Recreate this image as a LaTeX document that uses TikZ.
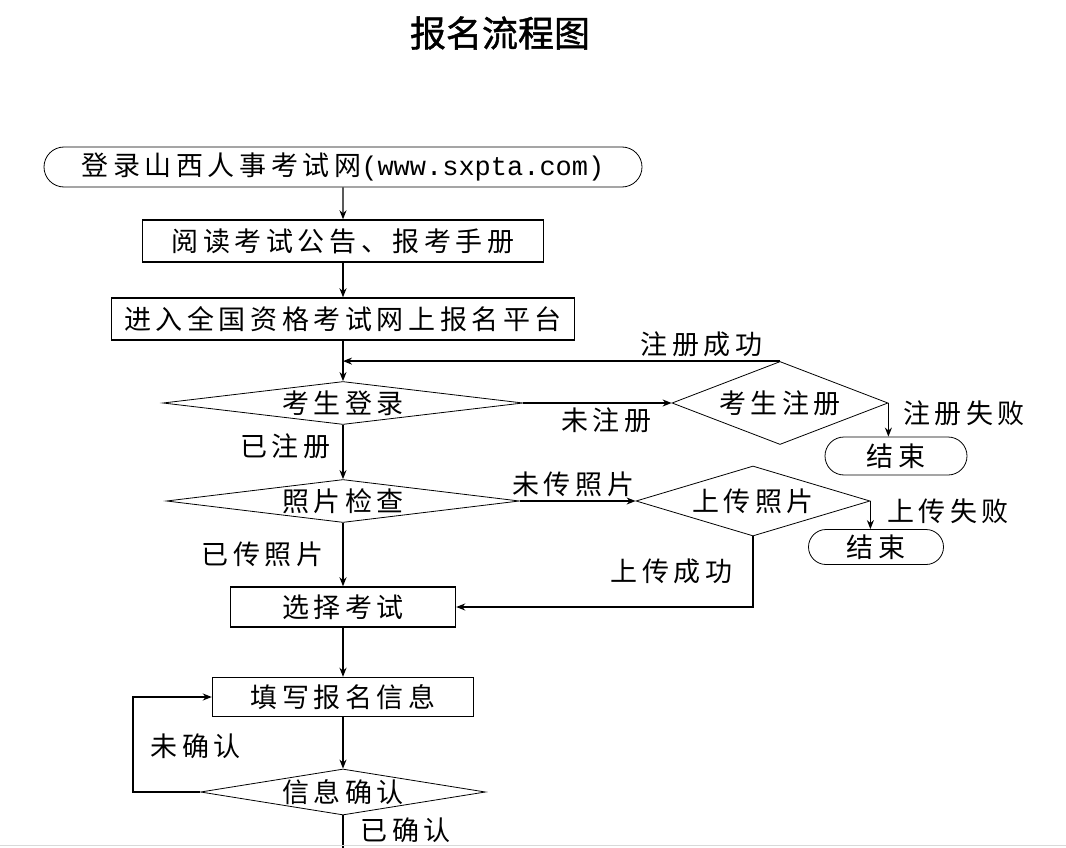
\documentclass[tikz,border=0pt]{standalone}
\usepackage{fontspec}
\setmainfont{Noto Sans CJK SC}[LetterSpace=17]
\newfontfamily\titlefont{Noto Sans CJK SC}[FakeBold=1.2]
\newfontfamily\urlfont{Liberation Mono}
\usetikzlibrary{shapes.geometric, shapes.misc, arrows.meta, positioning}

\begin{document}
\begin{tikzpicture}[
    x=1pt, y=-1pt,
    every node/.style={font=\fontsize{27}{31}\selectfont, inner sep=0pt},
    term/.style={draw, rounded rectangle, line width=0.8pt},
    proc/.style={draw, line width=1.4pt},
    dia/.style n args={3}{draw, diamond, line width=0.8pt, minimum width=#1, minimum height=#2, aspect=#3},
    arr/.style={-{Stealth[length=9pt,width=7pt]}, line width=1.4pt},
    lbl/.style={inner sep=4pt}
  ]
  \useasboundingbox (0,0) rectangle (1066,848);

  \node[font=\titlefont\fontsize{36}{40}\selectfont] (title) at (500,33) {报名流程图};

  % main column
  \node[term, minimum width=598, minimum height=40] (start) at (343,167)
    {登录山西人事考试网{\urlfont\fontsize{27}{31}\selectfont(www.sxpta.com)}};
  \node[proc, minimum width=401, minimum height=42] (read)  at (343,241) {阅读考试公告、报考手册};
  \node[proc, minimum width=463, minimum height=42] (enter) at (343,319) {进入全国资格考试网上报名平台};
  \node[dia={360}{43}{8.4}] (login)  at (343,403) {考生登录};
  \node[dia={353}{43}{8.2}] (photo)  at (343,501) {照片检查};
  \node[proc, minimum width=225, minimum height=40] (choose) at (343,607) {选择考试};
  \node[proc, minimum width=261, minimum height=39] (fill)   at (343,697) {填写报名信息};
  \node[dia={285}{46}{6.2}] (confirm) at (343,792) {信息确认};

  % side branches
  \node[dia={216}{83}{2.6}] (reg)    at (780,403) {考生注册};
  \node[term, minimum width=142, minimum height=38] (end1) at (896,456) {结束};
  \node[dia={234}{70}{3.3}] (upload) at (753,501) {上传照片};
  \node[term, minimum width=135, minimum height=35] (end2) at (876,547) {结束};

  \coordinate (back) at (133,792);
  \coordinate (next) at (343,848);

  \draw[arr] (start) -- (read);
  \draw[arr] (read) -- (enter);
  \draw[arr] (enter) -- (login);
  \draw[arr] (login) -- node[lbl, below, pos=0.56] {未注册} (reg);
  \draw[arr] (reg.north) -- node[lbl, above, pos=0.18] {注册成功} (reg.north -| enter.south);
  \draw[arr] (reg.east) -- node[lbl, right, pos=0.3, xshift=10] {注册失败} (reg.east |- end1.north);
  \draw[arr] (login) -- node[lbl, left, pos=0.4, xshift=-8] {已注册} (photo);
  \draw[arr] (photo) -- node[lbl, above, pos=0.46] {未传照片} (upload);
  \draw[arr] (upload.east) -- node[lbl, right, pos=0.35, xshift=12] {上传失败} (upload.east |- end2.north);
  \draw[arr] (upload.south) |- node[lbl, left, pos=0.25, xshift=-16] {上传成功} (choose.east);
  \draw[arr] (photo) -- node[lbl, left, pos=0.5, xshift=-15] {已传照片} (choose);
  \draw[arr] (choose) -- (fill);
  \draw[arr] (fill) -- (confirm);
  \draw[arr] (confirm.west) -- (back) |- node[lbl, right, pos=0.24, xshift=13] {未确认} (fill.west);
  \draw[line width=1.4pt] (confirm.south) -- node[lbl, right, pos=0.45, xshift=13] {已确认} (next);

  \draw[black!15] (0,845) -- (1066,845);
\end{tikzpicture}
\end{document}
